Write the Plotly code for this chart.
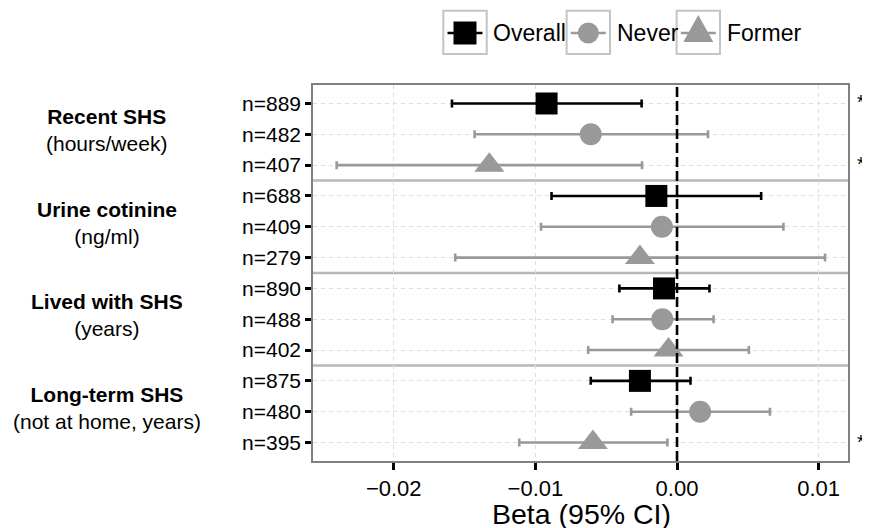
import plotly.graph_objects as go

# ---------------- data ----------------
row_labels = ["n=889", "n=482", "n=407", "n=688", "n=409", "n=279",
              "n=890", "n=488", "n=402", "n=875", "n=480", "n=395"]
row_group = ["Overall", "Never", "Former"] * 4
beta = [-0.00921, -0.00609, -0.01325, -0.00146, -0.00107, -0.00262,
        -0.00092, -0.00104, -0.00060, -0.00262, 0.00163, -0.00594]
ci_low = [-0.01589, -0.01429, -0.02403, -0.00886, -0.00960, -0.01566,
          -0.00407, -0.00455, -0.00627, -0.00609, -0.00324, -0.01114]
ci_high = [-0.00250, 0.00219, -0.00247, 0.00594, 0.00751, 0.01045,
           0.00229, 0.00258, 0.00507, 0.00095, 0.00656, -0.00068]
stars = ["**", "", "*", "", "", "", "", "", "", "", "", "*"]
exposure_names = ["Recent SHS", "Urine cotinine", "Lived with SHS", "Long-term SHS"]
exposure_units = ["(hours/week)", "(ng/ml)", "(years)", "(not at home, years)"]
x_ticks = [-0.02, -0.01, 0.0, 0.01]
legend_names = ["Overall", "Never", "Former"]

# ---------------- style ----------------
OFF = 8                      # page body margin of the browser
W, H = 870 - OFF, 528 - OFF
FONT = "Liberation Sans, Arial, Helvetica, sans-serif"
styles = {
    "Overall": dict(color="#000000", symbol="square", size=22),
    "Never": dict(color="#999999", symbol="circle", size=22),
    "Former": dict(color="#999999", symbol="triangle-up", size=26),
}

def px(x):
    return (x - OFF) / W

def py(y):
    return 1 - (y - OFF) / H

fig = go.Figure()

for g in legend_names:
    idx = [i for i, gg in enumerate(row_group) if gg == g]
    st = styles[g]
    fig.add_trace(go.Scatter(
        x=[beta[i] for i in idx],
        y=[row_labels[i] for i in idx],
        mode="markers",
        name=g,
        showlegend=False,
        marker=dict(color=st["color"], symbol=st["symbol"], size=st["size"],
                    line=dict(width=0)),
        error_x=dict(type="data", symmetric=False,
                     array=[ci_high[i] - beta[i] for i in idx],
                     arrayminus=[beta[i] - ci_low[i] for i in idx],
                     color=st["color"], thickness=2.6, width=4),
    ))

shapes = []
# group separators
for yv in [2.5, 5.5, 8.5]:
    shapes.append(dict(type="line", xref="x domain", yref="y", x0=0, x1=1, y0=yv, y1=yv,
                       line=dict(color="#b8b8b8", width=2.5), layer="below"))
# zero reference line
shapes.append(dict(type="line", xref="x", yref="y domain", x0=0, x1=0, y0=0, y1=1,
                   line=dict(color="#000000", width=2.6, dash="10px,4px"), layer="above"))

# manual legend (keys with grey frames)
box_cx = [465, 588.3, 698.3]
text_x = [491, 615, 725]
for k, g in enumerate(legend_names):
    cx = box_cx[k]
    shapes.append(dict(type="rect", xref="paper", yref="paper",
                       x0=px(cx - 21.7), x1=px(cx + 21.7), y0=py(54), y1=py(10.7),
                       line=dict(color="#c4c4c4", width=2), fillcolor="white"))
    shapes.append(dict(type="line", xref="paper", yref="paper",
                       x0=px(cx - 17.5), x1=px(cx + 17.5), y0=py(33), y1=py(33),
                       line=dict(color=styles[g]["color"], width=2.6)))
shapes.append(dict(type="rect", xref="paper", yref="paper",
                   x0=px(465 - 11.5), x1=px(465 + 11.5), y0=py(44.5), y1=py(21.5),
                   line=dict(width=0), fillcolor="#000000"))
shapes.append(dict(type="circle", xref="paper", yref="paper",
                   x0=px(588.3 - 10.5), x1=px(588.3 + 10.5), y0=py(43.5), y1=py(22.5),
                   line=dict(width=0), fillcolor="#999999"))
shapes.append(dict(type="path", xref="paper", yref="paper",
                   path="M {:.5f},{:.5f} L {:.5f},{:.5f} L {:.5f},{:.5f} Z".format(
                       px(683.3), py(42), px(713.3), py(42), px(698.3), py(15)),
                   line=dict(width=0), fillcolor="#999999"))

annotations = []
for k, g in enumerate(legend_names):
    annotations.append(dict(xref="paper", yref="paper", x=px(text_x[k]), y=py(33),
                            xanchor="left", yanchor="middle", text=g, showarrow=False,
                            font=dict(family=FONT, size=23, color="#000000")))
# group labels
for k in range(4):
    annotations.append(dict(xref="paper", yref="y", x=px(106.5), y=3 * k + 1,
                            xanchor="center", yanchor="middle", yshift=4,
                            text="<b>" + exposure_names[k] + "</b><br>" + exposure_units[k],
                            showarrow=False, align="center",
                            font=dict(family=FONT, size=21, color="#000000")))
# significance stars
for i, s in enumerate(stars):
    if s:
        annotations.append(dict(xref="paper", yref="y", x=px(855), y=i, xanchor="left",
                                yanchor="middle", yshift=1, text=s, showarrow=False,
                                font=dict(family=FONT, size=20, color="#000000")))
# x-axis title
annotations.append(dict(xref="paper", yref="paper", x=px(581), y=py(514),
                        xanchor="center", yanchor="middle", text="Beta (95% CI)",
                        showarrow=False, font=dict(family=FONT, size=28.5, color="#000000")))

fig.update_layout(
    width=W, height=H,
    margin=dict(l=0, r=0, t=0, b=0),
    paper_bgcolor="white", plot_bgcolor="white",
    showlegend=False,
    font=dict(family=FONT, color="#000000"),
    shapes=shapes,
    annotations=annotations,
)
fig.update_xaxes(
    domain=[px(313), px(848)],
    range=[-0.0257, 0.01207],
    tickvals=x_ticks, tickformat=".2f",
    ticks="outside", ticklen=7, tickwidth=2.5, tickcolor="#000000",
    tickfont=dict(family=FONT, size=22, color="#000000"),
    showgrid=True, gridcolor="#dedede", gridwidth=1, griddash="4px,4px",
    showline=True, mirror=True, linecolor="#808080", linewidth=1.5,
    zeroline=False, automargin=False,
)
fig.update_yaxes(
    domain=[py(461), py(85)],
    type="category", categoryorder="array", categoryarray=row_labels,
    range=[11.6, -0.6],
    ticks="outside", ticklen=6, tickwidth=2.5, tickcolor="#000000",
    tickfont=dict(family=FONT, size=21, color="#000000"),
    showgrid=True, gridcolor="#dedede", gridwidth=1, griddash="4px,4px",
    showline=True, mirror=True, linecolor="#808080", linewidth=1.5,
    zeroline=False, automargin=False,
)

fig.write_html("out.html")
